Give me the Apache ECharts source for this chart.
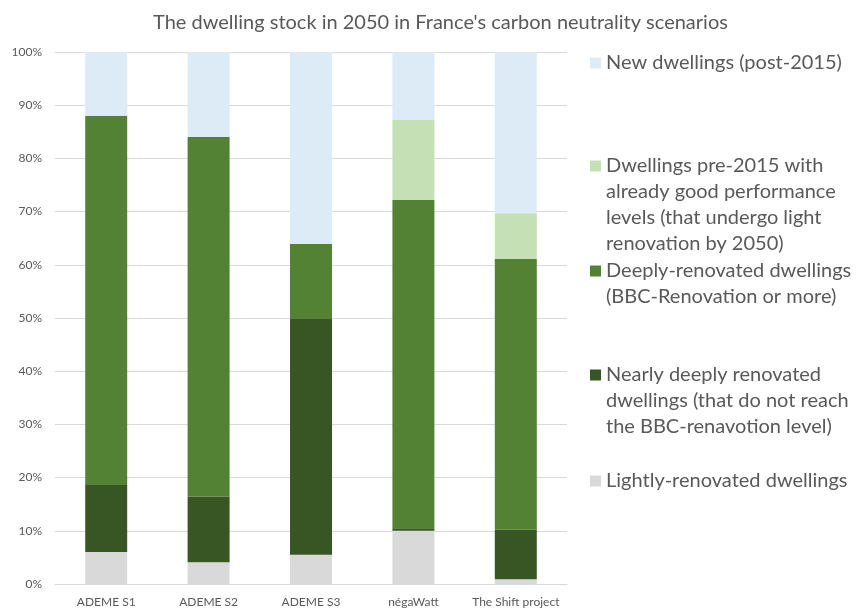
<!DOCTYPE html>
<html>
<head>
<meta charset="utf-8">
<script src="https://cdn.jsdelivr.net/npm/echarts@6/dist/echarts.min.js"></script>
<style>
  html, body { margin: 0; padding: 0; background: #fff; }
  #chart { width: 859px; height: 608px; }
</style>
</head>
<body>
<div id="chart"></div>
<script>
var categories = ['ADEME S1', 'ADEME S2', 'ADEME S3', 'négaWatt', 'The Shift project'];
var yTicks = [0, 10, 20, 30, 40, 50, 60, 70, 80, 90, 100];

// shares of the 2050 stock, in %
var lightlyRenovated = [6.0, 4.1, 5.5, 10.0, 0.9];
var nearlyDeep = [12.6, 12.3, 44.3, 0.5, 9.3];
var deeplyRenovated = [69.4, 67.6, 14.1, 61.7, 50.9];
var goodAlready = [0, 0, 0, 15.0, 8.6];
var newDwellings = [12.0, 16.0, 36.1, 12.8, 30.3];

var names = {
  light: 'Lightly-renovated dwellings',
  nearly: 'Nearly deeply renovated dwellings (that do not reach the BBC-renavotion level)',
  deep: 'Deeply-renovated dwellings (BBC-Renovation or more)',
  good: 'Dwellings pre-2015 with already good performance levels (that undergo light renovation by 2050)',
  newer: 'New dwellings (post-2015)'
};
var legendLines = {};
legendLines[names.newer] = ['New dwellings (post-2015)'];
legendLines[names.good] = ['Dwellings pre-2015 with', 'already good performance', 'levels (that undergo light', 'renovation by 2050)'];
legendLines[names.deep] = ['Deeply-renovated dwellings', '(BBC-Renovation or more)'];
legendLines[names.nearly] = ['Nearly deeply renovated', 'dwellings (that do not reach', 'the BBC-renavotion level)'];
legendLines[names.light] = ['Lightly-renovated dwellings'];

var FONT = 'Lato';
var GREY = '#595959';
var LH = 26;
var SQ = 11;

const mkSeries = (name, data, color) => ({
  name: name,
  type: 'bar',
  stack: 'total',
  data: data,
  barWidth: '41%',
  itemStyle: { color: color },
  emphasis: { disabled: true }
});

// one legend per entry so they can sit at Excel's uneven heights.
// the icon box is as tall as the text block, the square is drawn next to the
// first line and two tiny dots stretch the path to the full height
const mkLegend = (name, firstLineY) => {
  const n = legendLines[name].length;
  const h = n * LH;
  const sqTop = LH / 2 - SQ / 2;
  const icon = 'path://M0,' + sqTop + 'h' + SQ + 'v' + SQ + 'h-' + SQ + 'z' +
    'M0,0h0.01v0.01h-0.01z' +
    'M0,' + (h - 0.01) + 'h0.01v0.01h-0.01z';
  return {
    data: [{ name: name, icon: icon }],
    left: 590,
    top: firstLineY - LH / 2,
    padding: 0,
    itemWidth: SQ,
    itemHeight: h,
    itemGap: 0,
    selectedMode: false,
    formatter: (nm) => legendLines[nm].join('\n'),
    textStyle: {
      fontFamily: FONT,
      fontSize: 20,
      color: GREY,
      lineHeight: LH
    }
  };
};

const getOptionChart = () => {
  return {
    animation: false,
    title: {
      text: "The dwelling stock in 2050 in France's carbon neutrality scenarios",
      left: 148,
      top: 8,
      textStyle: { fontFamily: FONT, fontSize: 20, fontWeight: 'normal', color: GREY }
    },
    legend: [
      mkLegend(names.newer, 63),
      mkLegend(names.good, 166),
      mkLegend(names.deep, 271),
      mkLegend(names.nearly, 375),
      mkLegend(names.light, 481)
    ],
    grid: { left: 55, right: 292, top: 52, bottom: 24 },
    xAxis: {
      type: 'category',
      data: categories,
      axisTick: { show: false },
      axisLine: { lineStyle: { color: '#D9D9D9', width: 1 } },
      axisLabel: { interval: 0, fontFamily: FONT, fontSize: 12, color: GREY, margin: 12 }
    },
    yAxis: {
      type: 'value',
      min: yTicks[0],
      max: yTicks[yTicks.length - 1],
      interval: 10,
      axisLine: { show: false },
      axisTick: { show: false },
      splitLine: { lineStyle: { color: '#D9D9D9', width: 1 } },
      axisLabel: { fontFamily: FONT, fontSize: 12, color: GREY, margin: 13, formatter: '{value}%' }
    },
    series: [
      mkSeries(names.light, lightlyRenovated, '#D9D9D9'),
      mkSeries(names.nearly, nearlyDeep, '#375623'),
      mkSeries(names.deep, deeplyRenovated, '#548235'),
      mkSeries(names.good, goodAlready, '#C5E0B4'),
      mkSeries(names.newer, newDwellings, '#DDEBF7')
    ]
  };
};

const initCharts = () => {
  const chart = echarts.init(document.getElementById('chart'));
  chart.setOption(getOptionChart());
};

window.addEventListener('load', () => {
  initCharts();
});
</script>
</body>
</html>
